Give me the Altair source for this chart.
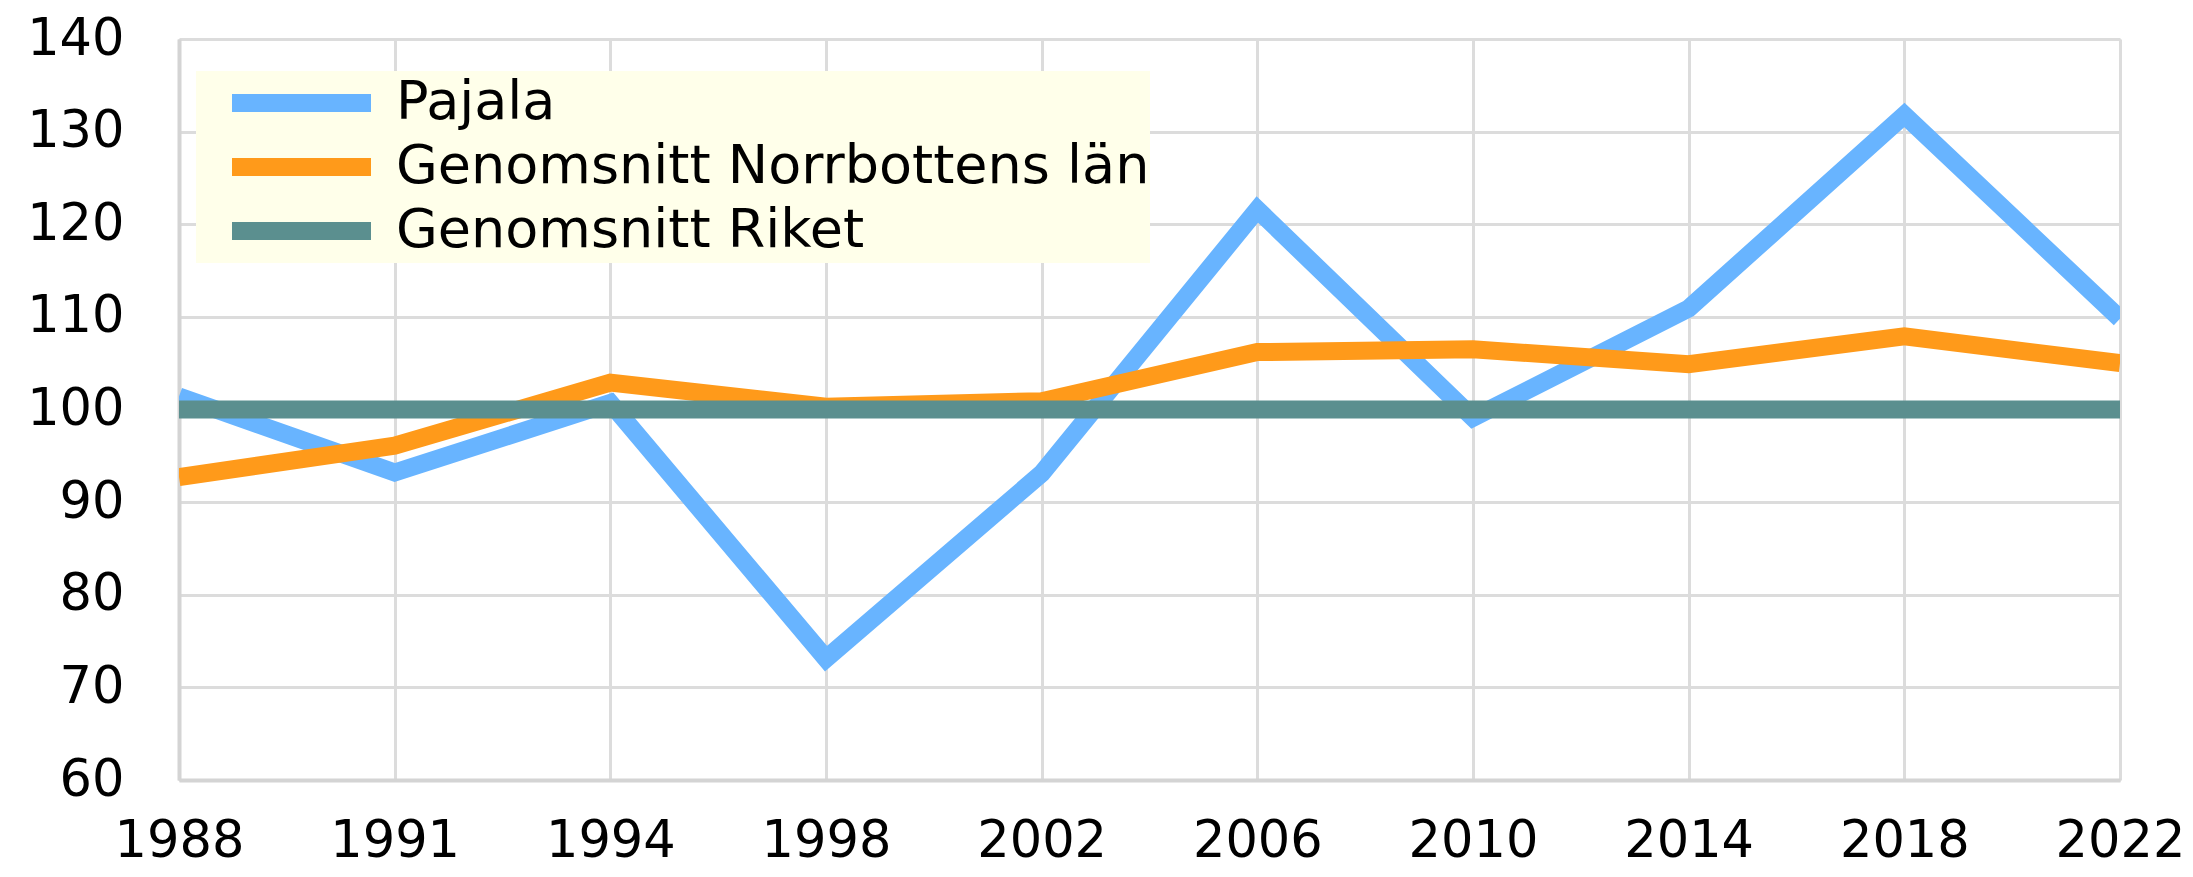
import altair as alt
import pandas as pd

years = ["1988", "1991", "1994", "1998", "2002", "2006", "2010", "2014", "2018", "2022"]
series_names = ["Pajala", "Genomsnitt Norrbottens län", "Genomsnitt Riket"]
pajala = [101.4, 93.2, 100.7, 73.1, 93.1, 121.6, 99.1, 110.9, 131.8, 109.8]
norrbotten = [92.7, 96.1, 102.9, 100.3, 100.9, 106.2, 106.5, 104.9, 107.9, 105.0]
riket = [100, 100, 100, 100, 100, 100, 100, 100, 100, 100]
colors = ["#68B4FF", "#FF9A1A", "#5B8F8F"]
y_ticks = [60, 70, 80, 90, 100, 110, 120, 130, 140]

rows = []
for name, vals in zip(series_names, [pajala, norrbotten, riket]):
    for i, (yr, v) in enumerate(zip(years, vals)):
        rows.append({"year": yr, "value": v, "series": name, "order": i})
df = pd.DataFrame(rows)

FONT = "DejaVu Sans"

chart = (
    alt.Chart(df)
    .mark_line(strokeWidth=18, strokeJoin="miter", strokeCap="butt", clip=True)
    .encode(
        x=alt.X(
            "year:O",
            sort=years,
            scale=alt.Scale(type="point", padding=0),
            axis=alt.Axis(
                title=None,
                labelAngle=0,
                labelFont=FONT,
                labelFontSize=51,
                labelColor="#000000",
                labelPadding=36,
                ticks=False,
                labelFlush=False,
                labelOverlap=False,
                domainColor="#d4d4d4",
                domainWidth=4,
                grid=True,
                gridColor="#dcdcdc",
                gridWidth=3,
            ),
        ),
        y=alt.Y(
            "value:Q",
            scale=alt.Scale(domain=[60, 140], nice=False, zero=False),
            axis=alt.Axis(
                title=None,
                values=y_ticks,
                labelFont=FONT,
                labelFontSize=51,
                labelColor="#000000",
                labelPadding=55,
                ticks=False,
                domainColor="#d4d4d4",
                domainWidth=4,
                grid=True,
                gridColor="#dcdcdc",
                gridWidth=3,
            ),
        ),
        color=alt.Color(
            "series:N",
            sort=series_names,
            scale=alt.Scale(domain=series_names, range=colors),
            legend=alt.Legend(
                title=None,
                orient="none",
                legendX=17,
                legendY=32,
                symbolType="stroke",
                symbolSize=19321,
                symbolStrokeWidth=18,
                symbolOffset=27,
                labelOffset=16,
                clipHeight=64,
                rowPadding=0,
                padding=0,
                fillColor="#FFFFEA",
                labelFont=FONT,
                labelFontSize=54,
                labelColor="#000000",
                labelLimit=3000,
            ),
        ),
        order=alt.Order("order:Q"),
    )
    .properties(
        width=1941,
        height=741,
        autosize=alt.AutoSizeParams(type="none"),
        padding={"left": 171, "top": 31, "right": 65, "bottom": 89},
    )
    .configure_view(fill="#FFFFEA", stroke="#dcdcdc", strokeWidth=3)
    .configure(background="#FFFFFF")
)

chart.save("out.html", embed_options={"renderer": "svg", "actions": False})
